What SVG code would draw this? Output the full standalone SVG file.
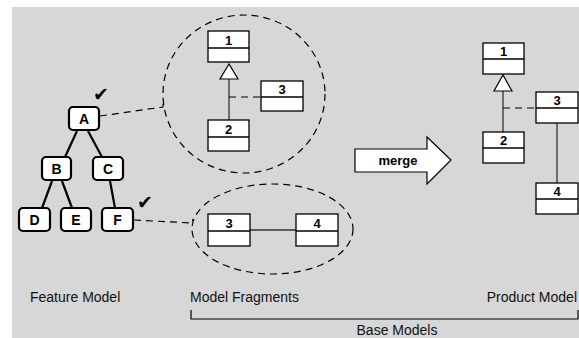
<svg xmlns="http://www.w3.org/2000/svg" width="579" height="338" viewBox="0 0 579 338">
<style>
.fn rect{fill:#fff;stroke:#000;stroke-width:2.2}
.fn text{font-family:"Liberation Sans",Arial,sans-serif;font-weight:bold;font-size:14px;text-anchor:middle}
.cls rect{fill:#fff;stroke:#000;stroke-width:1.3}
.cls line{stroke:#000;stroke-width:1.3}
.cls text{font-family:"Liberation Sans",Arial,sans-serif;font-weight:bold;font-size:13px;text-anchor:middle}
.tree{stroke:#000;stroke-width:2.2;fill:none}
.dash{stroke:#000;stroke-width:1.2;fill:none;stroke-dasharray:7,5}
.solid{stroke:#333;stroke-width:1.3;fill:none}
.lbl{font-family:"Liberation Sans",Arial,sans-serif;font-size:14px;fill:#111}
.chk{font-family:"DejaVu Sans",sans-serif;font-size:19px}
</style>
<rect x="12" y="7" width="567" height="331" fill="#d7d7d7"/>

<g id="connectors">
  <line class="tree" x1="77" y1="131" x2="65" y2="157"/>
  <line class="tree" x1="88" y1="131" x2="102" y2="157"/>
  <line class="tree" x1="52" y1="181" x2="42" y2="208"/>
  <line class="tree" x1="62" y1="181" x2="72" y2="208"/>
  <line class="tree" x1="110" y1="181" x2="115" y2="208"/>
  <polyline class="dash" points="100,116 163,107 163,103"/>
  <polyline class="dash" points="134,220 192,223 193,219"/>
  <ellipse class="dash" cx="244" cy="94" rx="81" ry="79"/>
  <ellipse class="dash" cx="272.5" cy="229" rx="80.5" ry="45"/>
  <line class="solid" x1="229" y1="79" x2="229" y2="120"/>
  <polygon points="229,64 220,79 238,79" fill="#fff" stroke="#000" stroke-width="1.2"/>
  <line class="dash" x1="229" y1="97" x2="261" y2="97" stroke-dasharray="4,3"/>
  <line class="solid" x1="250" y1="230" x2="296" y2="230"/>
  <line class="solid" x1="503" y1="91" x2="503" y2="132"/>
  <polygon points="503,75 494,91 512,91" fill="#fff" stroke="#000" stroke-width="1.2"/>
  <line class="dash" x1="503" y1="108" x2="536" y2="108" stroke-dasharray="4,3"/>
  <line class="solid" x1="557" y1="123" x2="557" y2="183"/>
</g>

<g id="node-A" class="fn"><rect x="69" y="107" width="30" height="23" rx="4"/><text x="84" y="123.5">A</text></g>
<g id="node-B" class="fn"><rect x="42" y="157" width="29" height="23" rx="4"/><text x="56.5" y="173.5">B</text></g>
<g id="node-C" class="fn"><rect x="93" y="157" width="30" height="23" rx="4"/><text x="108" y="173.5">C</text></g>
<g id="node-D" class="fn"><rect x="19" y="208" width="31" height="23" rx="4"/><text x="34.5" y="224.5">D</text></g>
<g id="node-E" class="fn"><rect x="61" y="208" width="30" height="23" rx="4"/><text x="76" y="224.5">E</text></g>
<g id="node-F" class="fn"><rect x="102" y="208" width="31" height="23" rx="4"/><text x="117.5" y="224.5">F</text></g>
<g id="check-A"><text class="chk" x="93" y="101">✔</text></g>
<g id="check-F"><text class="chk" x="137" y="209">✔</text></g>

<g id="frag1-class1" class="cls"><rect x="208" y="31" width="41" height="31"/><line x1="208" y1="48" x2="249" y2="48"/><text x="228.5" y="44.5">1</text></g>
<g id="frag1-class2" class="cls"><rect x="208" y="120" width="41" height="31"/><line x1="208" y1="137" x2="249" y2="137"/><text x="228.5" y="133.5">2</text></g>
<g id="frag1-class3" class="cls"><rect x="261" y="81" width="42" height="30"/><line x1="261" y1="97" x2="303" y2="97"/><text x="282" y="93.5">3</text></g>
<g id="frag2-class3" class="cls"><rect x="208" y="214" width="42" height="32"/><line x1="208" y1="231" x2="250" y2="231"/><text x="229" y="227.5">3</text></g>
<g id="frag2-class4" class="cls"><rect x="296" y="214" width="42" height="32"/><line x1="296" y1="231" x2="338" y2="231"/><text x="317" y="227.5">4</text></g>

<g id="merge-arrow">
  <polygon points="355,149 427,149 427,137 451,160 427,184 427,172 355,172" fill="#fff" stroke="#000" stroke-width="1.2"/>
  <text x="398" y="164.5" font-family="'Liberation Sans',Arial,sans-serif" font-weight="bold" font-size="13" text-anchor="middle">merge</text>
</g>

<g id="prod-class1" class="cls"><rect x="483" y="43" width="41" height="31"/><line x1="483" y1="59" x2="524" y2="59"/><text x="503.5" y="55.5">1</text></g>
<g id="prod-class2" class="cls"><rect x="483" y="132" width="41" height="31"/><line x1="483" y1="148" x2="524" y2="148"/><text x="503.5" y="144.5">2</text></g>
<g id="prod-class3" class="cls"><rect x="536" y="92" width="42" height="31"/><line x1="536" y1="108" x2="578" y2="108"/><text x="557" y="104.5">3</text></g>
<g id="prod-class4" class="cls"><rect x="536" y="183" width="42" height="31"/><line x1="536" y1="199" x2="578" y2="199"/><text x="557" y="195.5">4</text></g>

<g id="labels">
  <text class="lbl" x="30" y="302">Feature Model</text>
  <text class="lbl" x="190" y="302">Model Fragments</text>
  <text class="lbl" x="577" y="302" text-anchor="end">Product Model</text>
  <polyline points="191,310 191,319 578,319 578,310" fill="none" stroke="#000" stroke-width="1.2"/>
  <text class="lbl" x="397" y="335" text-anchor="middle">Base Models</text>
</g>
</svg>
